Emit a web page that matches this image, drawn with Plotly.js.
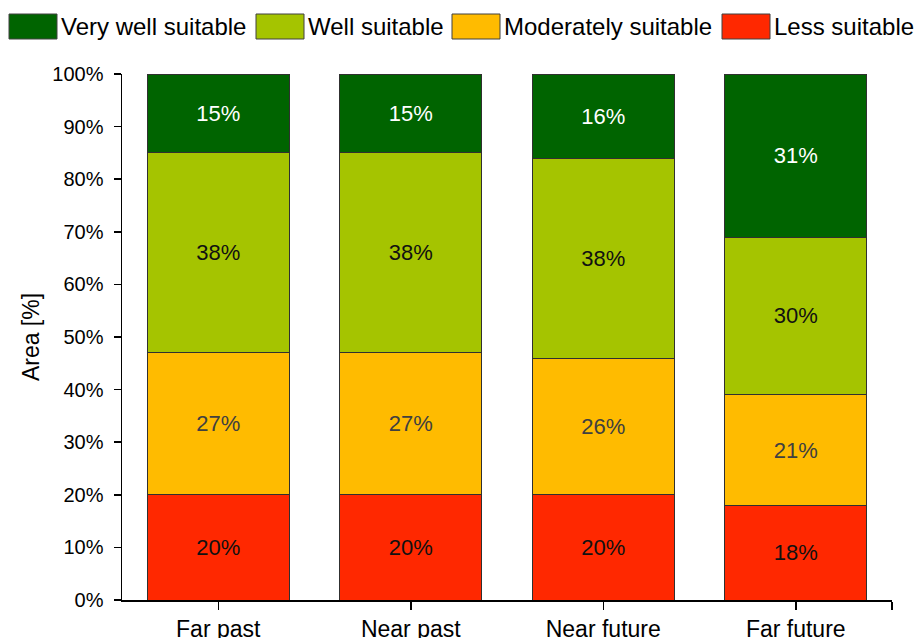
<!DOCTYPE html>
<html>
<head>
<meta charset="utf-8">
<script src="https://cdn.plot.ly/plotly-3.0.1.min.js"></script>
<style>
  html, body { margin: 0; padding: 0; background: #fff; }
  #chart { width: 919px; height: 638px; }
</style>
</head>
<body>
<div id="chart"></div>
<script>
// Share of area per suitability class and period (percent)
const categories = ["Far past", "Near past", "Near future", "Far future"];
const lessSuitable = [20, 20, 20, 18];
const moderatelySuitable = [27, 27, 26, 21];
const wellSuitable = [38, 38, 38, 30];
const veryWellSuitable = [15, 15, 16, 31];

// Legend order (left to right) and stacking order (bottom to top)
const legendNames = ["Very well suitable", "Well suitable", "Moderately suitable", "Less suitable"];
const yTickValues = [0, 10, 20, 30, 40, 50, 60, 70, 80, 90, 100];

const FONT = "Arial, 'Liberation Sans', sans-serif";
const W = 919, H = 638;
const M = { l: 122, r: 27, t: 74, b: 38 };
const plotW = W - M.l - M.r;
const plotH = H - M.t - M.b;

const style = {
  "Less suitable":        { fill: "#FF2800", text: "#111111" },
  "Moderately suitable":  { fill: "#FFBB00", text: "#404040" },
  "Well suitable":        { fill: "#A5C400", text: "#111111" },
  "Very well suitable":   { fill: "#006400", text: "#FFFFFF" }
};

const xIdx = categories.map((_, i) => i);
const stack = [
  ["Less suitable", lessSuitable],
  ["Moderately suitable", moderatelySuitable],
  ["Well suitable", wellSuitable],
  ["Very well suitable", veryWellSuitable]
];

const traces = stack.map(([name, vals]) => ({
  type: "bar",
  name: name,
  x: xIdx,
  y: vals,
  text: vals.map(v => v + "%"),
  textposition: "inside",
  insidetextanchor: "middle",
  textangle: 0,
  constraintext: "none",
  textfont: { family: FONT, size: 22, color: style[name].text },
  marker: { color: style[name].fill, line: { color: "#303030", width: 1 } },
  hoverinfo: "skip",
  showlegend: false
}));

// Custom legend row: large swatches with labels, placed in pixel terms
const legendPx = [9, 256, 452, 722];
const px2x = p => (p - M.l) / plotW;
const py2y = p => (H - M.b - p) / plotH;
const shapes = [];
const annotations = [];
legendNames.forEach((name, i) => {
  const x0 = legendPx[i];
  shapes.push({
    type: "rect", xref: "paper", yref: "paper",
    x0: px2x(x0), x1: px2x(x0 + 48), y0: py2y(39), y1: py2y(14),
    fillcolor: style[name].fill, line: { color: "#404040", width: 1 }
  });
  annotations.push({
    xref: "paper", yref: "paper", x: px2x(x0 + 50), y: py2y(27),
    xanchor: "left", yanchor: "middle", showarrow: false,
    text: name, font: { family: FONT, size: 24, color: "#000" }
  });
});

const layout = {
  width: W, height: H,
  margin: M,
  paper_bgcolor: "#fff", plot_bgcolor: "#fff",
  barmode: "stack",
  bargap: 0.26,
  showlegend: false,
  font: { family: FONT, color: "#000" },
  xaxis: {
    range: [-0.5, 3.5],
    tickvals: xIdx.concat([3.5]),
    ticktext: categories.concat([""]),
    ticks: "outside", ticklen: 8, tickwidth: 1.5, tickcolor: "#000",
    showline: true, linecolor: "#000", linewidth: 1.5,
    showgrid: false, zeroline: false,
    tickfont: { family: FONT, size: 23, color: "#000" },
    automargin: false, fixedrange: true
  },
  yaxis: {
    range: [0, 100],
    tickvals: yTickValues,
    ticktext: yTickValues.map(v => v + "%"),
    ticks: "outside", ticklen: 7, tickwidth: 1.5, tickcolor: "#000",
    ticklabelstandoff: 6,
    showline: true, linecolor: "#000", linewidth: 1.5,
    showgrid: false, zeroline: false,
    tickfont: { family: FONT, size: 20, color: "#000" },
    title: { text: "Area [%]", font: { family: FONT, size: 23, color: "#000" }, standoff: 6 },
    automargin: false, fixedrange: true
  },
  shapes: shapes,
  annotations: annotations
};

Plotly.newPlot("chart", traces, layout, { displayModeBar: false, staticPlot: true });
</script>
</body>
</html>
